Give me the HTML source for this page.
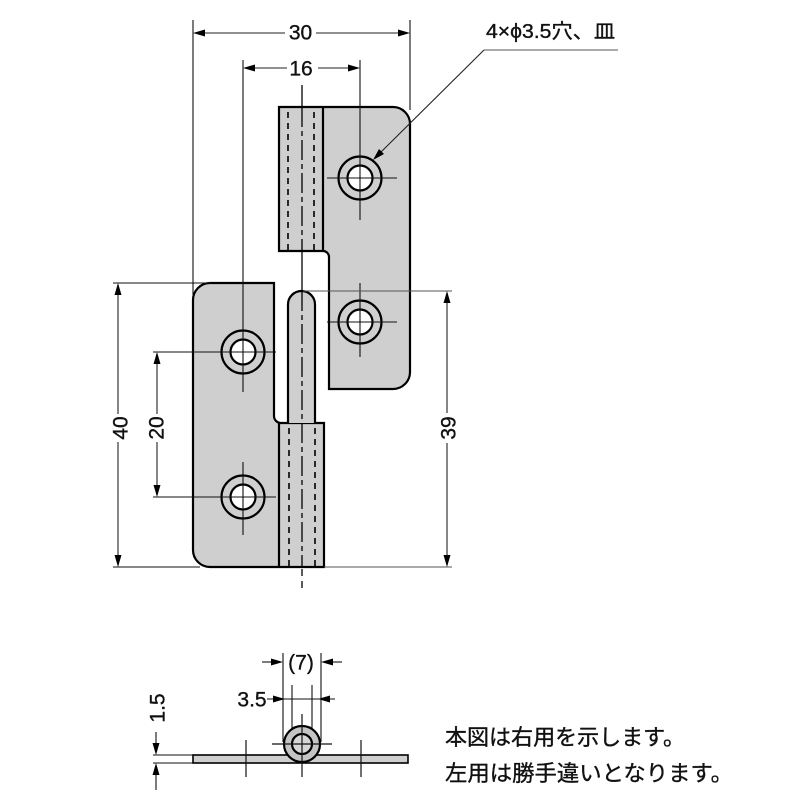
<!DOCTYPE html>
<html>
<head>
<meta charset="utf-8">
<style>
html,body{margin:0;padding:0;background:#fff;}
svg{display:block;}
text{font-family:"Liberation Sans","Noto Sans CJK JP",sans-serif;fill:#111;stroke:#111;stroke-width:0.35;}
</style>
</head>
<body>
<svg width="800" height="800" viewBox="0 0 800 800" xmlns="http://www.w3.org/2000/svg">
<rect x="0" y="0" width="800" height="800" fill="#fff"/>

<!-- ===== Upper (right) leaf ===== -->
<path d="M279,107 H393 A17 17 0 0 1 410,124 V372 A17 17 0 0 1 393,389 H329 V257 A6 6 0 0 0 323,251 H279 Z" fill="#cfcfcf" stroke="#000" stroke-width="2.2"/>
<line x1="323" y1="107" x2="323" y2="251" stroke="#000" stroke-width="2.2"/>
<line x1="288" y1="112" x2="288" y2="250" stroke="#000" stroke-width="1.6" stroke-dasharray="6 5"/>
<line x1="314" y1="112" x2="314" y2="250" stroke="#000" stroke-width="1.6" stroke-dasharray="6 5"/>

<!-- ===== Lower (left) leaf ===== -->
<path d="M210,283 H274 V416 A7 7 0 0 0 281,423 H324 V567 H210 A17 17 0 0 1 193,550 V300 A17 17 0 0 1 210,283 Z" fill="#cfcfcf" stroke="#000" stroke-width="2.2"/>
<line x1="279" y1="423" x2="279" y2="567" stroke="#000" stroke-width="2.2"/>
<line x1="289" y1="428" x2="289" y2="566" stroke="#000" stroke-width="1.6" stroke-dasharray="6 5"/>
<line x1="315" y1="428" x2="315" y2="566" stroke="#000" stroke-width="1.6" stroke-dasharray="6 5"/>

<!-- pin -->
<path d="M288,423 V304.5 A13.5 13.5 0 0 1 315,304.5 V423" fill="#cfcfcf" stroke="#000" stroke-width="2.2"/>

<!-- center line -->
<line x1="302" y1="85" x2="302" y2="107" stroke="#000" stroke-width="1.3"/>
<line x1="302" y1="107" x2="302" y2="251" stroke="#000" stroke-width="1.3" stroke-dasharray="20 4 5 4"/>
<line x1="302" y1="251" x2="302" y2="291" stroke="#000" stroke-width="1.3"/>
<line x1="302" y1="291" x2="302" y2="567" stroke="#000" stroke-width="1.3" stroke-dasharray="20 4 5 4"/>
<line x1="302" y1="569" x2="302" y2="591" stroke="#000" stroke-width="1.3" stroke-dasharray="7 5"/>

<!-- holes -->
<g stroke="#000" stroke-width="2.2">
  <circle cx="360" cy="178" r="21.5" fill="none"/>
  <circle cx="360" cy="178" r="12.5" fill="#fff"/>
  <circle cx="360" cy="322" r="21.5" fill="none"/>
  <circle cx="360" cy="322" r="12.5" fill="#fff"/>
  <circle cx="243" cy="352" r="21.5" fill="none"/>
  <circle cx="243" cy="352" r="12.5" fill="#fff"/>
  <circle cx="243" cy="497" r="21.5" fill="none"/>
  <circle cx="243" cy="497" r="12.5" fill="#fff"/>
</g>

<!-- crosshairs / extension lines -->
<g stroke="#111" stroke-width="1.1">
  <line x1="327" y1="178" x2="397" y2="178"/>
  <line x1="360" y1="60" x2="360" y2="220"/>
  <line x1="327" y1="322" x2="397" y2="322"/>
  <line x1="360" y1="283" x2="360" y2="357"/>
  <line x1="153" y1="352" x2="276" y2="352"/>
  <line x1="243" y1="60" x2="243" y2="392"/>
  <line x1="153" y1="497" x2="276" y2="497"/>
  <line x1="243" y1="462" x2="243" y2="535"/>
  <line x1="193" y1="20" x2="193" y2="295"/>
  <line x1="410" y1="20" x2="410" y2="110"/>
  <line x1="113" y1="283" x2="212" y2="283"/>
  <line x1="113" y1="567" x2="200" y2="567"/>
</g>
<g stroke="#555" stroke-width="1.1">
  <line x1="303" y1="291" x2="452" y2="291"/>
  <line x1="324" y1="567" x2="452" y2="567"/>
</g>

<!-- ===== dimensions ===== -->
<g stroke="#222" stroke-width="1.1">
  <line x1="195" y1="33" x2="285" y2="33"/>
  <line x1="316" y1="33" x2="408" y2="33"/>
  <line x1="245" y1="68" x2="287" y2="68"/>
  <line x1="318" y1="68" x2="358" y2="68"/>
  <line x1="118" y1="285" x2="118" y2="414"/>
  <line x1="118" y1="442" x2="118" y2="565"/>
  <line x1="157" y1="354" x2="157" y2="414"/>
  <line x1="157" y1="442" x2="157" y2="495"/>
  <line x1="447" y1="293" x2="447" y2="413"/>
  <line x1="447" y1="443" x2="447" y2="565"/>
</g>
<g fill="#000">
  <polygon points="193,33 205,29.5 205,36.5"/>
  <polygon points="410,33 398,29.5 398,36.5"/>
  <polygon points="243,68 255,64.5 255,71.5"/>
  <polygon points="360,68 348,64.5 348,71.5"/>
  <polygon points="118,283 114.5,295 121.5,295"/>
  <polygon points="118,567 114.5,555 121.5,555"/>
  <polygon points="157,352 153.5,364 160.5,364"/>
  <polygon points="157,497 153.5,485 160.5,485"/>
  <polygon points="447,291 443.5,303 450.5,303"/>
  <polygon points="447,567 443.5,555 450.5,555"/>
</g>
<g font-size="21" text-anchor="middle">
  <text x="300.5" y="39.5">30</text>
  <text x="301" y="75.5">16</text>
  <text transform="translate(120,428) rotate(-90)" y="7.5">40</text>
  <text transform="translate(156,428) rotate(-90)" y="7.5">20</text>
  <text transform="translate(448,428) rotate(-90)" y="7.5">39</text>
</g>

<!-- leader label -->
<line x1="484" y1="50" x2="618" y2="50" stroke="#555" stroke-width="1.1"/>
<line x1="484" y1="50" x2="378" y2="155" stroke="#222" stroke-width="1.1"/>
<polygon points="373,160 379,149 384,154" fill="#000"/>
<text x="486" y="38" font-size="20" textLength="129" lengthAdjust="spacingAndGlyphs">4×ϕ3.5穴、皿</text>

<!-- ===== Bottom side view ===== -->
<g stroke="#111" stroke-width="1.1">
  <line x1="153" y1="755" x2="193" y2="755"/>
  <line x1="153" y1="763" x2="193" y2="763"/>
  <line x1="156" y1="732" x2="156" y2="745"/>
  <line x1="156" y1="773" x2="156" y2="790"/>
  <line x1="283" y1="653" x2="283" y2="742"/>
  <line x1="321" y1="653" x2="321" y2="742"/>
  <line x1="292" y1="685" x2="292" y2="732"/>
  <line x1="312" y1="685" x2="312" y2="732"/>
  <line x1="262" y1="662" x2="274" y2="662"/>
  <line x1="330" y1="662" x2="342" y2="662"/>
  <line x1="267" y1="699" x2="335" y2="699"/>
</g>
<g fill="#000">
  <polygon points="156,755 152.5,743 159.5,743"/>
  <polygon points="156,763 152.5,775 159.5,775"/>
  <polygon points="283,662 271,658.5 271,665.5"/>
  <polygon points="321,662 333,658.5 333,665.5"/>
  <polygon points="285,699 273,695.5 273,702.5"/>
  <polygon points="318,699 330,695.5 330,702.5"/>
</g>
<rect x="193" y="755" width="215" height="8" fill="#cfcfcf" stroke="#000" stroke-width="1.6"/>
<circle cx="302" cy="744" r="18" fill="#c4c4c4" stroke="#000" stroke-width="2.2"/>
<circle cx="302" cy="744" r="10" fill="#d6d6d6" stroke="#000" stroke-width="2.2"/>
<g stroke="#111" stroke-width="1.2">
  <line x1="272" y1="744" x2="332" y2="744"/>
  <line x1="302" y1="714" x2="302" y2="777"/>
  <line x1="246" y1="740" x2="246" y2="777"/>
  <line x1="361" y1="740" x2="361" y2="777"/>
</g>
<g font-size="21" text-anchor="middle">
  <text x="301" y="669.5">(7)</text>
  <text x="252" y="706.5">3.5</text>
  <text transform="translate(157,708) rotate(-90)" y="7.5">1.5</text>
</g>

<!-- notes -->
<text x="445" y="745" font-size="22" textLength="240" lengthAdjust="spacingAndGlyphs">本図は右用を示します。</text>
<text x="445" y="781" font-size="22" textLength="288" lengthAdjust="spacingAndGlyphs">左用は勝手違いとなります。</text>
</svg>
</body>
</html>
